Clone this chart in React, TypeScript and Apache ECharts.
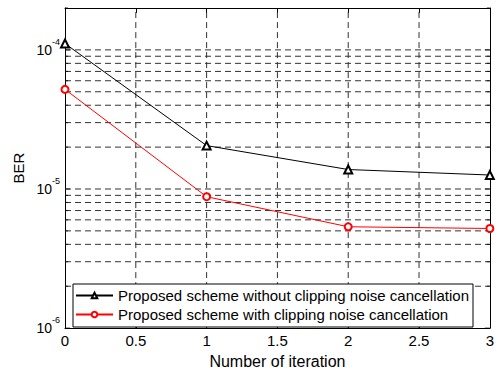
import React, { useEffect, useRef } from "react";
import * as echarts from "echarts";

const xValues = [0, 1, 2, 3];
const berWithout = [1.11e-4, 2.05e-5, 1.38e-5, 1.26e-5];
const berWith = [5.2e-5, 8.8e-6, 5.35e-6, 5.2e-6];
const seriesNames = [
  "Proposed scheme without clipping noise cancellation",
  "Proposed scheme with clipping noise cancellation",
];
const yGridValues = [
  2e-6, 3e-6, 4e-6, 5e-6, 6e-6, 7e-6, 8e-6, 9e-6,
  1e-5, 2e-5, 3e-5, 4e-5, 5e-5, 6e-5, 7e-5, 8e-5, 9e-5,
  1e-4,
];
const yTickValues = [1e-6, ...yGridValues, 2e-4];
const xGridValues = [0.5, 1, 1.5, 2, 2.5];
const xRange = [0, 3];
const yRange = [1e-6, 2e-4];

const FONT = "'Liberation Sans', Arial, Helvetica, sans-serif";

function isPow10(v: number) {
  const e = Math.log10(v);
  return Math.abs(e - Math.round(e)) < 1e-6;
}

export default function App() {
  const ref = useRef<HTMLDivElement>(null);
  useEffect(() => {
    if (!ref.current) return;
    const chart = echarts.init(ref.current, null, { renderer: "svg" });

    const dashed = { type: [6, 4], color: "#333", width: 1 };

    const hGridSeries = yGridValues.map((v) => ({
      type: "line",
      silent: true,
      z: 1,
      symbol: "none",
      data: [
        [xRange[0], v],
        [xRange[1], v],
      ],
      lineStyle: dashed,
      emphasis: { disabled: true },
    }));
    const vGridSeries = xGridValues.map((x) => ({
      type: "line",
      silent: true,
      z: 1,
      symbol: "none",
      data: [
        [x, yRange[0]],
        [x, yRange[1]],
      ],
      lineStyle: dashed,
      emphasis: { disabled: true },
    }));

    const tickSeries = [
      {
        type: "scatter",
        silent: true,
        z: 2,
        symbol: "rect",
        data: yTickValues.map((v) => ({
          value: [xRange[0], v],
          symbolSize: [isPow10(v) ? 5 : 3, 1],
          symbolOffset: [isPow10(v) ? 2.5 : 1.5, 0],
        })),
        itemStyle: { color: "#000" },
        emphasis: { disabled: true },
      },
      {
        type: "scatter",
        silent: true,
        z: 2,
        symbol: "rect",
        data: yTickValues.map((v) => ({
          value: [xRange[1], v],
          symbolSize: [isPow10(v) ? 5 : 3, 1],
          symbolOffset: [isPow10(v) ? -2.5 : -1.5, 0],
        })),
        itemStyle: { color: "#000" },
        emphasis: { disabled: true },
      },
    ];

    const option: any = {
      animation: false,
      backgroundColor: "#fff",
      textStyle: { fontFamily: FONT },
      grid: { left: 65, top: 8, right: 2, bottom: 39 },
      graphic: [
        {
          type: "rect",
          z: 3,
          shape: { x: 73, y: 284, width: 400, height: 43 },
          style: { fill: "#fff", stroke: "#000", lineWidth: 1 },
        },
      ],
      legend: {
        left: 73,
        top: 284,
        orient: "vertical",
        z: 5,
        padding: [4, 6, 4, 2],
        itemGap: 4,
        itemWidth: 37,
        itemHeight: 7,
        textStyle: { fontSize: 15, lineHeight: 15, fontFamily: FONT, color: "#000" },
        data: seriesNames,
      },
      xAxis: [
        {
          type: "value",
          min: 0,
          max: 3,
          interval: 0.5,
          position: "bottom",
          name: "Number of iteration",
          nameLocation: "middle",
          nameGap: 22,
          nameTextStyle: { fontSize: 16, color: "#000", fontFamily: FONT },
          axisLine: { show: true, lineStyle: { color: "#000", width: 1 } },
          axisTick: { show: true, inside: true, length: 5, lineStyle: { color: "#000" } },
          axisLabel: { fontSize: 15, color: "#000", margin: 5, fontFamily: FONT },
          splitLine: { show: false },
        },
        {
          type: "value",
          min: 0,
          max: 3,
          interval: 0.5,
          position: "top",
          axisLine: { show: true, onZero: false, lineStyle: { color: "#000", width: 1 } },
          axisTick: { show: true, inside: true, length: 5, lineStyle: { color: "#000" } },
          axisLabel: { show: false },
          splitLine: { show: false },
        },
      ],
      yAxis: [
        {
          type: "log",
          logBase: 10,
          min: yRange[0],
          max: yRange[1],
          interval: 1,
          position: "left",
          name: "BER",
          nameLocation: "middle",
          nameGap: 36,
          nameTextStyle: { fontSize: 15, color: "#000", fontFamily: FONT },
          axisLine: { show: true, lineStyle: { color: "#000", width: 1 } },
          axisTick: { show: false },
          splitLine: { show: false },
          axisLabel: {
            margin: 5,
            color: "#000",
            fontFamily: FONT,
            formatter: (v: number) => {
              if (!isPow10(v)) return "";
              return "{b|10}{s|" + Math.round(Math.log10(v)) + "}";
            },
            rich: {
              b: { fontSize: 14, color: "#000", fontFamily: FONT },
              s: { fontSize: 9, color: "#000", fontFamily: FONT, padding: [0, 0, 16, 0] },
            },
          },
        },
        {
          type: "log",
          logBase: 10,
          min: yRange[0],
          max: yRange[1],
          position: "right",
          axisLine: { show: true, onZero: false, lineStyle: { color: "#000", width: 1 } },
          axisTick: { show: false },
          axisLabel: { show: false },
          splitLine: { show: false },
        },
      ],
      series: [
        ...hGridSeries,
        ...vGridSeries,
        ...tickSeries,
        {
          name: seriesNames[0],
          type: "line",
          z: 3,
          data: xValues.map((x, i) => [x, berWithout[i]]),
          symbol: "emptyTriangle",
          symbolSize: 8,
          itemStyle: { color: "#000", borderColor: "#000", borderWidth: 1 },
          lineStyle: { color: "#000", width: 1 },
        },
        {
          name: seriesNames[1],
          type: "line",
          z: 3,
          data: xValues.map((x, i) => [x, berWith[i]]),
          symbol: "emptyCircle",
          symbolSize: 7,
          itemStyle: { color: "#ff0000", borderColor: "#ff0000", borderWidth: 1 },
          lineStyle: { color: "#ff0000", width: 1 },
        },
      ],
    };
    chart.setOption(option);
    return () => chart.dispose();
  }, []);
  return (
    <div
      ref={ref}
      style={{ position: "fixed", left: 0, top: 0, width: 497, height: 374 }}
    />
  );
}
